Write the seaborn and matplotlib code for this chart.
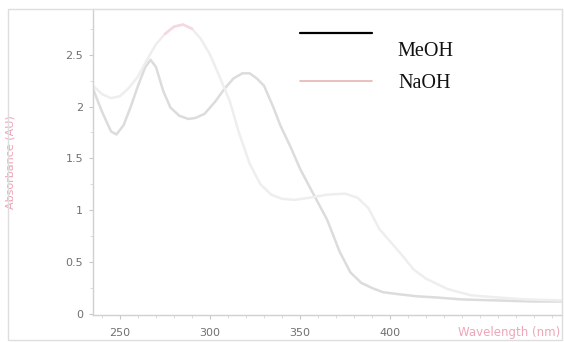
import numpy as np
import pandas as pd
import seaborn as sns
import matplotlib.pyplot as plt
from matplotlib.patches import Rectangle
from matplotlib.lines import Line2D

# spectra (wavelength nm, absorbance AU)
meoh_wl = [235, 240, 245, 248, 252, 256, 260, 264, 267, 270, 274, 278, 283, 288, 292,
           297, 303, 308, 313, 318, 322, 326, 330, 335, 339, 345, 350, 357, 365, 372,
           378, 384, 390, 396, 405, 415, 425, 440, 460, 480, 496]
meoh_abs = [2.17, 1.95, 1.76, 1.73, 1.82, 2.0, 2.2, 2.38, 2.45, 2.38, 2.15, 1.99, 1.91, 1.88, 1.89,
            1.93, 2.05, 2.17, 2.27, 2.32, 2.32, 2.27, 2.2, 2.0, 1.82, 1.6, 1.4, 1.17, 0.91, 0.6,
            0.4, 0.3, 0.25, 0.21, 0.19, 0.17, 0.16, 0.14, 0.13, 0.12, 0.12]

naoh_wl = [235, 240, 245, 250, 255, 260, 265, 270, 275, 280, 285, 290, 295, 300, 305,
           311, 316, 322, 328, 334, 340, 347, 355, 365, 375, 382, 388, 394, 400, 406,
           413, 420, 432, 445, 459, 475, 496]
naoh_abs = [2.2, 2.12, 2.08, 2.1, 2.18, 2.29, 2.45, 2.6, 2.7, 2.77, 2.79, 2.75, 2.65, 2.5, 2.3,
            2.05, 1.75, 1.45, 1.25, 1.15, 1.11, 1.1, 1.12, 1.15, 1.16, 1.12, 1.02, 0.82, 0.7, 0.58,
            0.43, 0.34, 0.24, 0.18, 0.16, 0.14, 0.13]

df = pd.concat([
    pd.DataFrame({"wl": meoh_wl, "A": meoh_abs, "solvent": "MeOH"}),
    pd.DataFrame({"wl": naoh_wl, "A": naoh_abs, "solvent": "NaOH"}),
])

sns.set_style("white")
fig = plt.figure(figsize=(5.64, 3.42), dpi=100)
ax = fig.add_axes([93 / 564, 27 / 342, 469 / 564, 306 / 342])

sns.lineplot(data=df, x="wl", y="A", hue="solvent", sort=False,
             palette={"MeOH": "#dcdcdc", "NaOH": "#eeeeee"},
             linewidth=1.8, legend=False, ax=ax)
# pinkish tint on the top of the NaOH band
top = df[(df.solvent == "NaOH") & (df.A > 2.68)]
sns.lineplot(data=top, x="wl", y="A", color="#f7d8de", linewidth=1.8, sort=False, ax=ax)

ax.set_xlim(235, 495.5)
ax.set_ylim(-0.01, 2.94)
ax.set_xticks([250, 300, 350, 400])
ax.set_yticks([0, 0.5, 1, 1.5, 2, 2.5])
ax.set_yticklabels(["0", "0.5", "1", "1.5", "2", "2.5"])
ax.set_xticks(np.arange(240, 500, 10), minor=True)
ax.set_yticks(np.arange(0.25, 2.9, 0.25), minor=True)
ax.tick_params(axis="both", which="major", labelsize=8, labelcolor="#707070",
               color="#c8c8c8", length=3, direction="out")
ax.tick_params(axis="both", which="minor", color="#e0d0d8", length=2)
ax.tick_params(axis="x", pad=6)
ax.tick_params(axis="y", pad=4)
ax.tick_params(left=True, bottom=True, which="both")

for s in ["left", "bottom"]:
    ax.spines[s].set_color("#d0d0d0")
    ax.spines[s].set_linewidth(1)
for s in ["top", "right"]:
    ax.spines[s].set_color("#e4e4e4")

ax.set_ylabel("Absorbance (AU)", fontsize=8, color="#f0a0b4")
ax.yaxis.set_label_coords(-0.165, 0.50)
ax.set_xlabel("Wavelength (nm)", fontsize=8.5, color="#eea6b8")
ax.xaxis.set_label_coords(0.997, -0.035)
ax.xaxis.label.set_ha("right")
ax.xaxis.label.set_va("top")

# outer frame of the picture
fig.patches.append(Rectangle((8 / 564, 2 / 342), 554 / 564, 331 / 342, transform=fig.transFigure,
                             fill=False, edgecolor="#dedede", linewidth=1))

# legend as drawn in the original (lines offset from the labels)
fig.patches.append(Rectangle((375 / 564, 1 - 106 / 342), 113 / 564, 78 / 342,
                             transform=fig.transFigure, facecolor="white", edgecolor="none"))
fig.add_artist(Line2D([300 / 564, 372 / 564], [1 - 33 / 342] * 2, transform=fig.transFigure,
                      color="black", linewidth=1.6))
fig.add_artist(Line2D([300 / 564, 372 / 564], [1 - 81 / 342] * 2, transform=fig.transFigure,
                      color="#e8b4b4", linewidth=1.2))
fig.text(425 / 564, 1 - 52 / 342, "MeOH", fontsize=14.5, family="Liberation Serif",
         ha="center", va="center", color="#111111")
fig.text(425 / 564, 1 - 83 / 342, "NaOH", fontsize=14.5, family="Liberation Serif",
         ha="center", va="center", color="#111111")

fig.savefig("out.png", dpi=100)
